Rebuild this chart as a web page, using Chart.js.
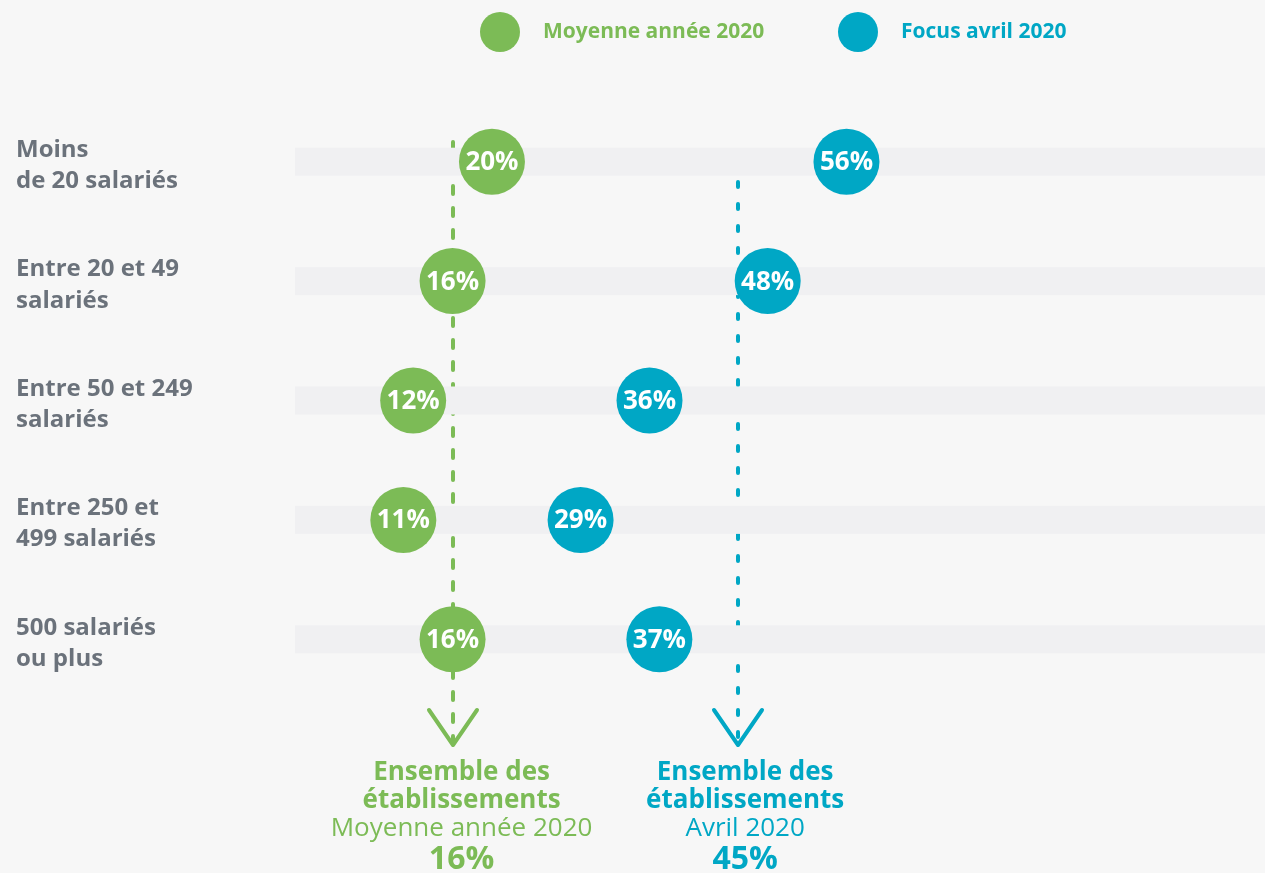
<!DOCTYPE html>
<html>
<head>
<meta charset="utf-8">
<script src="https://cdn.jsdelivr.net/npm/chart.js@4/dist/chart.umd.min.js"></script>
<style>
  html, body { margin: 0; padding: 0; background: #f7f7f7; }
  #wrap { width: 1265px; height: 873px; }
</style>
</head>
<body>
<div id="wrap"><canvas id="bubbleChart" width="1265" height="873"></canvas></div>
<script>
// categories (y axis) and series values (in %)
const categories = [
  ['Moins', 'de 20 salariés'],
  ['Entre 20 et 49', 'salariés'],
  ['Entre 50 et 249', 'salariés'],
  ['Entre 250 et', '499 salariés'],
  ['500 salariés', 'ou plus']
];
const seriesNames = ['Moyenne année 2020', 'Focus avril 2020'];
const moyenne2020 = [20, 16, 12, 11, 16];
const avril2020 = [56, 48, 36, 29, 37];
const totals = [16, 45];
const totalTitles = ['Moyenne année 2020', 'Avril 2020'];

const GREEN = '#7cbb56';
const BLUE = '#00a7c5';
const GREY = '#6b727b';
const FONT = "'Open Sans', sans-serif";

const catKeys = categories.map(c => c.join(' '));

function toPoints(values) {
  return values.map((v, i) => ({ x: v, y: catKeys[i] }));
}

// draws dashed average lines, arrow heads and the grey bands behind the bubbles
const backdropPlugin = {
  id: 'backdrop',
  beforeDatasetsDraw(chart) {
    const ctx = chart.ctx;
    const x = chart.scales.x, y = chart.scales.y;
    const area = chart.chartArea;
    const lineStarts = [142, 182];
    const colors = [GREEN, BLUE];
    const dashes = [[8, 14], [5, 17]];
    ctx.save();
    totals.forEach((t, k) => {
      const px = Math.round(x.getPixelForValue(t));
      ctx.strokeStyle = colors[k];
      ctx.lineWidth = 4;
      ctx.lineCap = 'round';
      ctx.setLineDash(dashes[k]);
      ctx.beginPath();
      ctx.moveTo(px, lineStarts[k]);
      ctx.lineTo(px, 742);
      ctx.stroke();
      ctx.setLineDash([]);
      ctx.lineJoin = 'round';
      ctx.beginPath();
      ctx.moveTo(px - 24, 710);
      ctx.lineTo(px, 745);
      ctx.lineTo(px + 24, 710);
      ctx.stroke();
    });
    ctx.fillStyle = '#f0f0f2';
    catKeys.forEach((c, i) => {
      const py = y.getPixelForValue(i);
      ctx.fillRect(area.left, py - 14, area.right - area.left, 28);
    });
    ctx.restore();
  },
  afterDatasetsDraw(chart) {
    const ctx = chart.ctx;
    ctx.save();
    ctx.fillStyle = '#ffffff';
    ctx.font = "700 26px " + FONT;
    ctx.textAlign = 'center';
    ctx.textBaseline = 'middle';
    chart.data.datasets.forEach((ds, d) => {
      const meta = chart.getDatasetMeta(d);
      meta.data.forEach((el, i) => {
        ctx.fillText(ds.data[i].x + '%', el.x, el.y + 1);
      });
    });
    ctx.restore();
  },
  afterDraw(chart) {
    const ctx = chart.ctx;
    const x = chart.scales.x;
    const colors = [GREEN, BLUE];
    ctx.save();
    // legend
    const legendX = [500, 858];
    seriesNames.forEach((name, k) => {
      ctx.fillStyle = colors[k];
      ctx.beginPath();
      ctx.arc(legendX[k], 32, 20, 0, Math.PI * 2);
      ctx.fill();
      ctx.font = "700 21px " + FONT;
      ctx.textAlign = 'left';
      ctx.textBaseline = 'middle';
      ctx.fillText(name, legendX[k] + 43, 32);
    });
    // totals under the arrows
    const shifts = [9, 7];
    totals.forEach((t, k) => {
      const px = x.getPixelForValue(t) + shifts[k];
      ctx.fillStyle = colors[k];
      ctx.textAlign = 'center';
      ctx.textBaseline = 'middle';
      ctx.font = "700 26px " + FONT;
      ctx.fillText('Ensemble des', px, 773);
      ctx.fillText('établissements', px, 801);
      ctx.font = "400 26px " + FONT;
      ctx.fillText(totalTitles[k], px, 829);
      ctx.font = "700 32px " + FONT;
      ctx.fillText(t + '%', px, 860);
    });
    ctx.restore();
  }
};

const ctx = document.getElementById('bubbleChart').getContext('2d');
const myChart = new Chart(ctx, {
  type: 'bubble',
  data: {
    datasets: [
      { label: seriesNames[0], data: toPoints(moyenne2020), backgroundColor: GREEN, borderWidth: 0, radius: 33 },
      { label: seriesNames[1], data: toPoints(avril2020), backgroundColor: BLUE, borderWidth: 0, radius: 33 }
    ]
  },
  options: {
    responsive: false,
    animation: false,
    layout: { autoPadding: false, padding: { left: 16, top: 102, bottom: 174, right: 0 } },
    plugins: {
      legend: { display: false },
      tooltip: { enabled: false }
    },
    scales: {
      x: {
        type: 'linear',
        min: 0,
        max: 98.5,
        display: false
      },
      y: {
        type: 'category',
        labels: catKeys,
        offset: true,
        grid: { display: false },
        border: { display: false },
        afterFit(scale) { scale.width = 279; },
        ticks: {
          crossAlign: 'far',
          labelOffset: 4,
          color: GREY,
          font: { family: FONT, size: 24, weight: '700', lineHeight: 1.3 },
          callback: (v, i) => categories[i]
        }
      }
    }
  },
  plugins: [backdropPlugin]
});
</script>
</body>
</html>
